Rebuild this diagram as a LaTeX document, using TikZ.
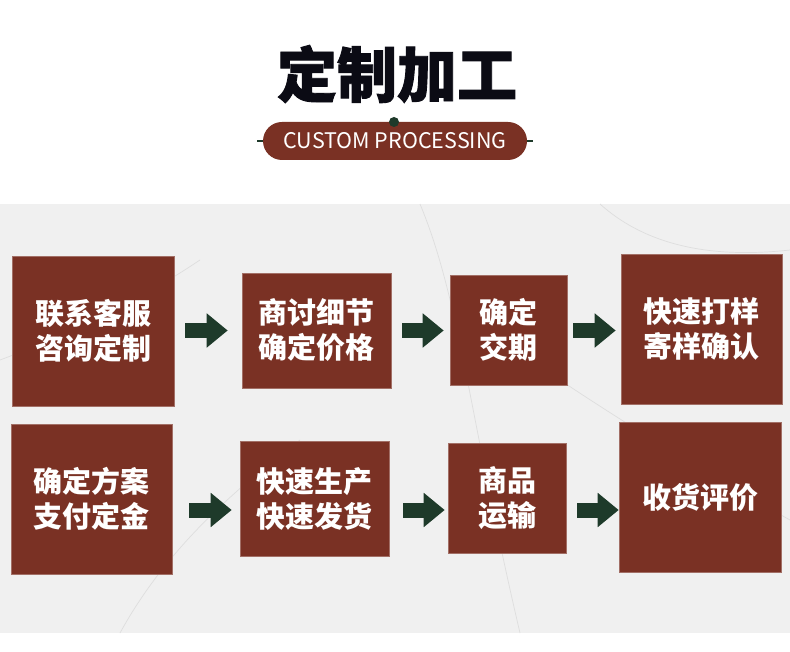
\documentclass[tikz,border=0pt]{standalone}
\usepackage{fontspec}
\setmainfont{Noto Sans CJK SC}
\usetikzlibrary{arrows.meta,calc}
\definecolor{brownbox}{HTML}{7A3124}
\definecolor{arrowgreen}{HTML}{1E3A2A}
\definecolor{titleink}{HTML}{0B0B14}
\definecolor{panelgray}{HTML}{F0F0F0}
\definecolor{sketch}{HTML}{DEDEDE}
\tikzset{
  stepbox/.style={fill=brownbox,draw=brownbox!70!white,line width=0.6pt,text=white,font=\fontsize{29}{35}\selectfont\bfseries,align=center,inner sep=0pt},
  blockarrow/.style={draw=arrowgreen,line width=15pt,-{Triangle[width=33pt,length=21pt]}}
}
\begin{document}
\begin{tikzpicture}[x=1pt,y=-1pt]
\useasboundingbox (0,0) rectangle (790,652);
\fill[white] (0,0) rectangle (790,652);
% gray panel
\fill[panelgray] (0,204) rectangle (790,633);
\begin{scope}[sketch,line width=0.7pt]
\draw (0,360) .. controls (80,330) and (140,300) .. (200,260);
\draw (420,204) .. controls (460,300) and (470,420) .. (520,633);
\draw (560,380) .. controls (620,420) and (700,470) .. (790,520);
\draw (120,633) .. controls (160,560) and (220,500) .. (300,440);
\draw (600,204) .. controls (640,240) and (700,260) .. (790,250);
\end{scope}
% title
\node[text=titleink,font=\fontsize{60}{60}\selectfont\bfseries\addfontfeature{FakeBold=1.5}] (title) at (397,74) {定制加工};
% subtitle pill
\draw[arrowgreen,line width=1.5pt] (257,141) -- (533,141);
\node[fill=brownbox,rounded corners=19pt,minimum width=264pt,minimum height=38pt,inner sep=0pt,text=white,font=\fontsize{21.5}{21.5}\selectfont] (sub) at (395,141) {CUSTOM PROCESSING};
\fill[arrowgreen] (394,122) circle (5pt);
% boxes
\node[stepbox,minimum width=162pt,minimum height=150pt] (b1) at (93,331) {联系客服\\咨询定制};
\node[stepbox,minimum width=149pt,minimum height=115pt] (b2) at (316.5,330.5) {商讨细节\\确定价格};
\node[stepbox,minimum width=117pt,minimum height=110pt] (b3) at (508.5,330) {确定\\交期};
\node[stepbox,minimum width=161pt,minimum height=150pt] (b4) at (701.5,329) {快速打样\\寄样确认};
\node[stepbox,minimum width=161pt,minimum height=150pt] (b5) at (91.5,499) {确定方案\\支付定金};
\node[stepbox,minimum width=149pt,minimum height=115pt] (b6) at (314.5,498.5) {快速生产\\快速发货};
\node[stepbox,minimum width=118pt,minimum height=110pt] (b7) at (507,498) {商品\\运输};
\node[stepbox,minimum width=162pt,minimum height=150pt] (b8) at (700,497) {收货评价};
% arrows
\draw[blockarrow,shorten <=11pt,shorten >=14pt] (b1.east |- 0,330.5) -- (b2.west |- 0,330.5);
\draw[blockarrow,shorten <=11pt,shorten >=6pt] (b2.east |- 0,330.5) -- (b3.west |- 0,330.5);
\draw[blockarrow,shorten <=6pt,shorten >=5pt] (b3.east |- 0,330.5) -- (b4.west |- 0,330.5);
\draw[blockarrow,shorten <=17pt,shorten >=8pt] (b5.east |- 0,510) -- (b6.west |- 0,510);
\draw[blockarrow,shorten <=14pt,shorten >=3pt] (b6.east |- 0,510) -- (b7.west |- 0,510);
\draw[blockarrow,shorten <=11pt,shorten >=0pt] (b7.east |- 0,510) -- (b8.west |- 0,510);
\end{tikzpicture}
\end{document}
